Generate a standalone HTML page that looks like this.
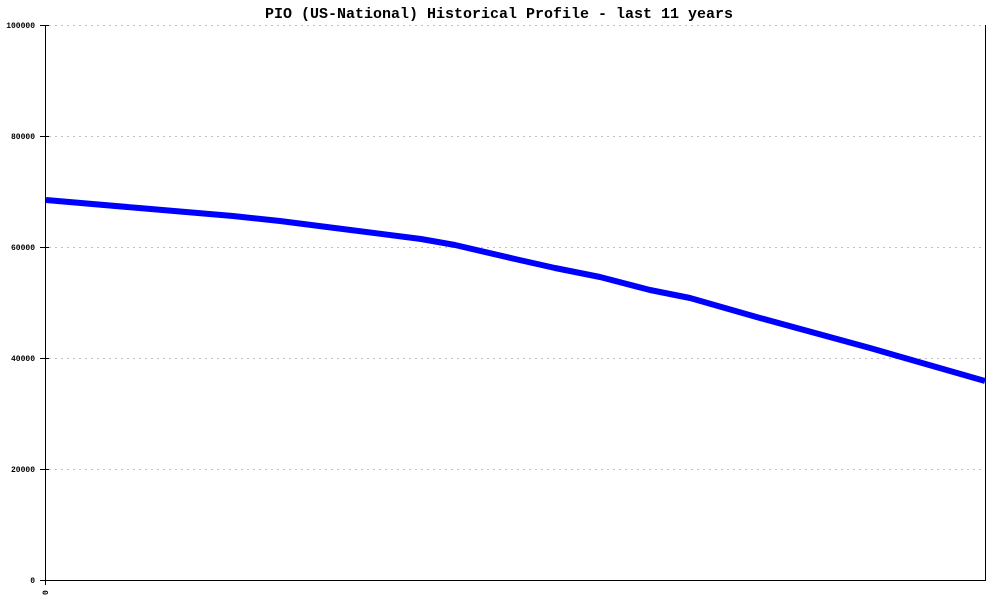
<!DOCTYPE html>
<html>
<head>
<meta charset="utf-8">
<style>
  html, body { margin: 0; padding: 0; background: #ffffff; }
  svg { display: block; }
</style>
</head>
<body>
<svg width="1000" height="600" viewBox="0 0 1000 600" xmlns="http://www.w3.org/2000/svg">
  <rect x="0" y="0" width="1000" height="600" fill="#ffffff"/>
  <!-- title -->
  <text x="499" y="18" text-anchor="middle" font-family="Liberation Mono, monospace" font-size="15" font-weight="bold" fill="#000">PIO (US-National) Historical Profile - last 11 years</text>

  <!-- gridlines -->
  <g stroke="#c0c0c0" stroke-width="1" stroke-dasharray="2,4" shape-rendering="crispEdges">
    <line x1="49" y1="25.5" x2="983" y2="25.5"/>
    <line x1="49" y1="136.5" x2="983" y2="136.5"/>
    <line x1="49" y1="247.5" x2="983" y2="247.5"/>
    <line x1="49" y1="358.5" x2="983" y2="358.5"/>
    <line x1="49" y1="469.5" x2="983" y2="469.5"/>
  </g>

  <!-- axes -->
  <g stroke="#000" stroke-width="1" shape-rendering="crispEdges">
    <line x1="45.5" y1="25" x2="45.5" y2="585"/>
    <line x1="985.5" y1="25" x2="985.5" y2="581"/>
    <line x1="40" y1="580.5" x2="986" y2="580.5"/>
    <line x1="40" y1="25.5" x2="49" y2="25.5"/>
    <line x1="40" y1="136.5" x2="49" y2="136.5"/>
    <line x1="40" y1="247.5" x2="49" y2="247.5"/>
    <line x1="40" y1="358.5" x2="49" y2="358.5"/>
    <line x1="40" y1="469.5" x2="49" y2="469.5"/>
  </g>

  <!-- y labels -->
  <g font-family="Liberation Mono, monospace" font-size="8" font-weight="bold" fill="#000" text-anchor="end">
    <text x="35" y="28">100000</text>
    <text x="35" y="139">80000</text>
    <text x="35" y="250">60000</text>
    <text x="35" y="361">40000</text>
    <text x="35" y="472">20000</text>
    <text x="35" y="583">0</text>
  </g>
  <!-- x label -->
  <text x="0" y="0" transform="translate(48,595) rotate(-90)" font-family="Liberation Mono, monospace" font-size="8" font-weight="bold" fill="#000">0</text>

  <!-- data line -->
  <polyline fill="none" stroke="#0000ff" stroke-width="6" stroke-linejoin="round"
    points="46,200 139,208 233,216 280,221 327,227 421,239 455,245 515,259 555,268 600,277 650,290 690,298 760,318 870,348 985,381"/>
</svg>
</body>
</html>
